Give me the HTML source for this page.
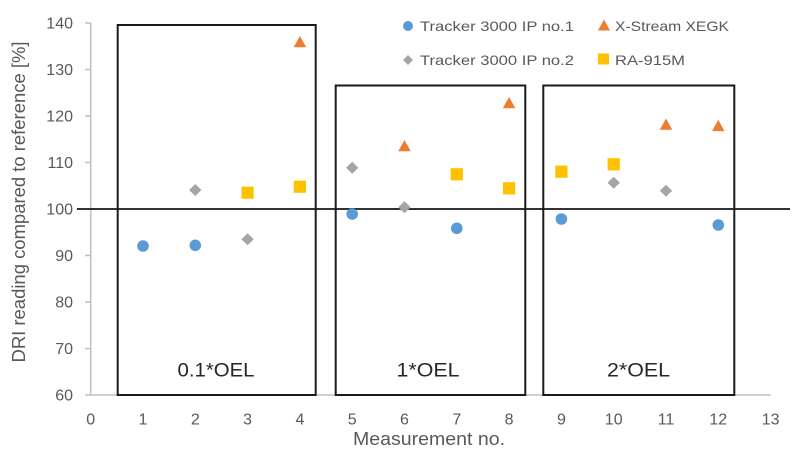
<!DOCTYPE html>
<html><head><meta charset="utf-8"><style>
html,body{margin:0;padding:0;background:#fff;}
svg{display:block;}
text{font-family:"Liberation Sans",sans-serif;}
</style></head><body>
<svg width="800" height="454" viewBox="0 0 800 454" xmlns="http://www.w3.org/2000/svg">
<rect width="800" height="454" fill="#fff"/>
<!-- axes -->
<line x1="90.7" y1="23" x2="90.7" y2="395" stroke="#BFBFBF" stroke-width="1.5"/>
<line x1="90.7" y1="395" x2="770.7" y2="395" stroke="#BFBFBF" stroke-width="1.5"/>
<g stroke="#BFBFBF" stroke-width="1.5">
<line x1="85" y1="23" x2="90.7" y2="23"/>
<line x1="85" y1="69.5" x2="90.7" y2="69.5"/>
<line x1="85" y1="116" x2="90.7" y2="116"/>
<line x1="85" y1="162.5" x2="90.7" y2="162.5"/>
<line x1="85" y1="209" x2="90.7" y2="209"/>
<line x1="85" y1="255.5" x2="90.7" y2="255.5"/>
<line x1="85" y1="302" x2="90.7" y2="302"/>
<line x1="85" y1="348.5" x2="90.7" y2="348.5"/>
<line x1="85" y1="395" x2="90.7" y2="395"/>
</g>
<g fill="#595959" font-size="16" text-anchor="end">
<text x="73" y="28.5">140</text>
<text x="73" y="75">130</text>
<text x="73" y="121.5">120</text>
<text x="73" y="168">110</text>
<text x="73" y="214.5">100</text>
<text x="73" y="261">90</text>
<text x="73" y="307.5">80</text>
<text x="73" y="354">70</text>
<text x="73" y="400.5">60</text>
</g>
<g fill="#595959" font-size="16" text-anchor="middle">
<text x="90.7" y="424.5">0</text>
<text x="143" y="424.5">1</text>
<text x="195.3" y="424.5">2</text>
<text x="247.6" y="424.5">3</text>
<text x="299.9" y="424.5">4</text>
<text x="352.2" y="424.5">5</text>
<text x="404.5" y="424.5">6</text>
<text x="456.8" y="424.5">7</text>
<text x="509.1" y="424.5">8</text>
<text x="561.4" y="424.5">9</text>
<text x="613.7" y="424.5">10</text>
<text x="666" y="424.5">11</text>
<text x="718.3" y="424.5">12</text>
<text x="770.6" y="424.5">13</text>
</g>
<text x="429" y="445" fill="#595959" font-size="18" text-anchor="middle" textLength="152" lengthAdjust="spacingAndGlyphs">Measurement no.</text>
<text transform="translate(25,202) rotate(-90)" fill="#595959" font-size="18" text-anchor="middle" textLength="321" lengthAdjust="spacingAndGlyphs">DRI reading compared to reference [%]</text>

<!-- reference line -->
<line x1="77" y1="209" x2="790" y2="209" stroke="#333" stroke-width="2"/>

<!-- boxes -->
<g fill="none" stroke="#1a1a1a" stroke-width="2">
<rect x="117.7" y="25" width="198" height="370"/>
<rect x="335.7" y="85.5" width="189.6" height="309.5"/>
<rect x="543.3" y="85.5" width="191" height="309.5"/>
</g>
<g fill="#262626" font-size="19" text-anchor="middle">
<text x="216" y="376.7" textLength="77" lengthAdjust="spacingAndGlyphs">0.1*OEL</text>
<text x="428" y="376.7" textLength="63" lengthAdjust="spacingAndGlyphs">1*OEL</text>
<text x="638.5" y="376.7" textLength="63" lengthAdjust="spacingAndGlyphs">2*OEL</text>
</g>

<!-- Tracker 1 circles -->
<g fill="#5B9BD5">
<circle cx="143" cy="246" r="5.8"/>
<circle cx="195.3" cy="245.3" r="5.8"/>
<circle cx="352.2" cy="214" r="5.8"/>
<circle cx="456.8" cy="228.3" r="5.8"/>
<circle cx="561.4" cy="219" r="5.8"/>
<circle cx="718.3" cy="225" r="5.8"/>
</g>
<!-- Tracker 2 diamonds -->
<g fill="#A5A5A5">
<path d="M195.3 184 L201.5 190 L195.3 196 L189.1 190 Z"/>
<path d="M247.6 233.3 L253.8 239.3 L247.6 245.3 L241.4 239.3 Z"/>
<path d="M352.2 161.7 L358.4 167.7 L352.2 173.7 L346 167.7 Z"/>
<path d="M404.5 201.3 L410.7 207.3 L404.5 213.3 L398.3 207.3 Z"/>
<path d="M613.7 176.7 L619.9 182.7 L613.7 188.7 L607.5 182.7 Z"/>
<path d="M666 184.7 L672.2 190.7 L666 196.7 L659.8 190.7 Z"/>
</g>
<!-- X-Stream triangles -->
<g fill="#ED7D31">
<path d="M299.9 36 L306.2 47.3 L293.6 47.3 Z"/>
<path d="M404.5 140 L410.8 151.3 L398.2 151.3 Z"/>
<path d="M509.1 97 L515.4 108.3 L502.8 108.3 Z"/>
<path d="M666 118.5 L672.3 129.8 L659.7 129.8 Z"/>
<path d="M718.3 119.8 L724.6 131.1 L712 131.1 Z"/>
</g>
<!-- RA-915M squares -->
<g fill="#FFC000">
<rect x="241.5" y="186.6" width="12.2" height="12.2"/>
<rect x="293.8" y="180.6" width="12.2" height="12.2"/>
<rect x="450.7" y="168.2" width="12.2" height="12.2"/>
<rect x="503" y="182.2" width="12.2" height="12.2"/>
<rect x="555.3" y="165.6" width="12.2" height="12.2"/>
<rect x="607.6" y="158.2" width="12.2" height="12.2"/>
</g>

<!-- legend -->
<circle cx="408" cy="26" r="5" fill="#5B9BD5"/>
<path d="M408 55 L413 60 L408 65 L403 60 Z" fill="#A5A5A5"/>
<path d="M604 19.5 L610 30.5 L598 30.5 Z" fill="#ED7D31"/>
<rect x="598" y="53.5" width="11" height="11" fill="#FFC000"/>
<g fill="#595959" font-size="14">
<text x="420" y="31" textLength="154" lengthAdjust="spacingAndGlyphs">Tracker 3000 IP no.1</text>
<text x="420" y="65" textLength="154" lengthAdjust="spacingAndGlyphs">Tracker 3000 IP no.2</text>
<text x="615" y="31" textLength="114" lengthAdjust="spacingAndGlyphs">X-Stream XEGK</text>
<text x="615" y="65" textLength="70" lengthAdjust="spacingAndGlyphs">RA-915M</text>
</g>
</svg>
</body></html>
